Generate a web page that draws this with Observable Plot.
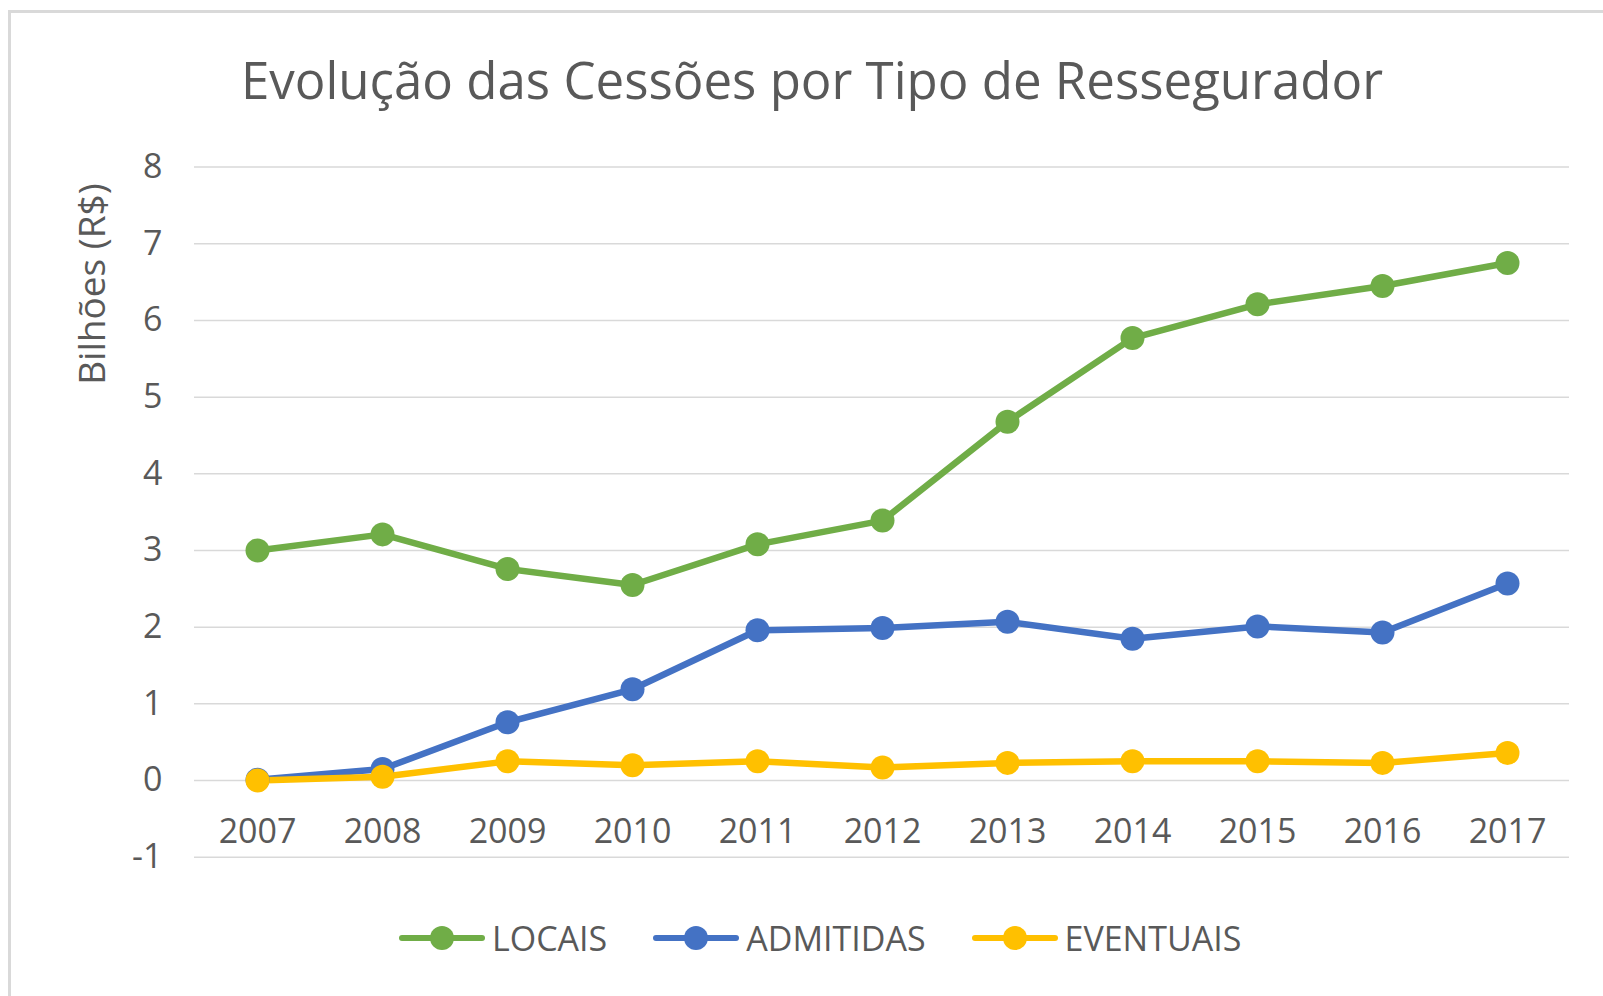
<!DOCTYPE html>
<html><head><meta charset="utf-8">
<script src="https://cdn.jsdelivr.net/npm/d3@7"></script>
<script src="https://cdn.jsdelivr.net/npm/@observablehq/plot@0.6"></script>
<style>
html,body{margin:0;padding:0;width:1603px;height:996px;overflow:hidden;background:#fff;font-family:"Open Sans",sans-serif;color:#595959}
#frame{position:absolute;left:8px;top:10px;width:2000px;height:2000px;border:3px solid #d9d9d9;box-sizing:border-box}
#title{position:absolute;left:0;width:1624px;top:54px;text-align:center;font-size:51px;line-height:51px;white-space:nowrap}
#chart{position:absolute;left:0;top:130px}
#legend{position:absolute;top:918px;left:399px;height:40px;display:flex;align-items:center;font-size:34px;line-height:40px;white-space:nowrap}
.item{display:flex;align-items:center;margin-right:46px}
.item svg{margin-right:7px}
</style></head>
<body>
<div id="frame"></div>
<div id="title">Evolução das Cessões por Tipo de Ressegurador</div>
<div id="chart"></div>
<div id="legend"></div>
<script>
const years = [2007, 2008, 2009, 2010, 2011, 2012, 2013, 2014, 2015, 2016, 2017];
const locais = [3.0, 3.21, 2.76, 2.55, 3.08, 3.39, 4.68, 5.77, 6.21, 6.45, 6.75];
const admitidas = [0.01, 0.15, 0.76, 1.19, 1.96, 1.99, 2.07, 1.85, 2.01, 1.93, 2.57];
const eventuais = [0.0, 0.05, 0.25, 0.2, 0.25, 0.17, 0.23, 0.25, 0.25, 0.23, 0.36];
const seriesNames = ["LOCAIS", "ADMITIDAS", "EVENTUAIS"];
const seriesColors = ["#70AD47", "#4472C4", "#FFC000"];
const yTicks = [-1, 0, 1, 2, 3, 4, 5, 6, 7, 8];
const yLabel = "Bilhões (R$)";

const seriesValues = [locais, admitidas, eventuais];
const data = seriesNames.flatMap((s, i) => years.map((yr, j) => ({year: yr, value: seriesValues[i][j], series: s})));

const chart = Plot.plot({
  width: 1603, height: 760,
  marginLeft: 194, marginRight: 34, marginTop: 36.6, marginBottom: 33.3,
  x: {type: "point", domain: years, padding: 0.5, axis: null},
  y: {domain: [-1, 8], axis: null},
  color: {domain: seriesNames, range: seriesColors},
  style: {fontFamily: "Open Sans", fontSize: "34px", color: "#595959", background: "transparent", overflow: "visible"},
  marks: [
    Plot.gridY(yTicks, {stroke: "#d9d9d9", strokeOpacity: 1, strokeWidth: 1.5}),
    Plot.axisY(yTicks, {tickSize: 0, tickPadding: 32, fontSize: 34, fill: "#595959", label: null, tickFormat: d => String(d)}),
    Plot.text(years, {x: d => d, y: () => 0, text: d => String(d), dy: 52, fontSize: 34, fill: "#595959"}),
    Plot.line(data, {x: "year", y: "value", stroke: "series", z: "series", strokeWidth: 6.5, strokeLinejoin: "round"}),
    Plot.dot(data, {x: "year", y: "value", fill: "series", r: 12}),
    Plot.text([yLabel], {frameAnchor: "top-left", textAnchor: "middle", dx: -116, dy: 117, rotate: -90, fontSize: 37, fill: "#595959"})
  ]
});
document.getElementById("chart").appendChild(chart);

const legend = document.getElementById("legend");
seriesNames.forEach((s, i) => {
  const item = document.createElement("div");
  item.className = "item";
  item.innerHTML = `<svg width="86" height="30"><line x1="3" y1="15" x2="83" y2="15" stroke="${seriesColors[i]}" stroke-width="6" stroke-linecap="round"/><circle cx="43" cy="15" r="12" fill="${seriesColors[i]}"/></svg><span>${s}</span>`;
  legend.appendChild(item);
});
</script>
</body></html>
